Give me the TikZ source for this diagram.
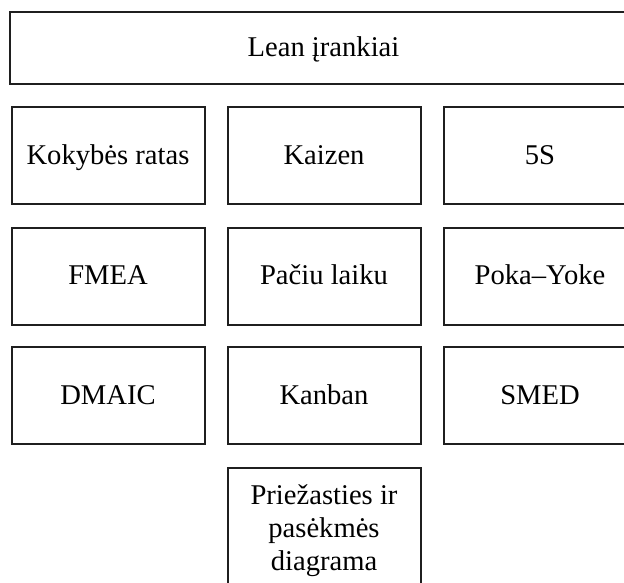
\documentclass[tikz,border=0pt]{standalone}
\usepackage{fontspec}
\setmainfont{Liberation Serif}
\begin{document}
\begin{tikzpicture}[x=1pt,y=-1pt,
  boxbase/.style={draw=black!88, line width=2pt, rectangle, align=center,
    minimum width=193pt, inner sep=0pt,
    font=\fontsize{28.6}{33}\selectfont},
  tool/.style={boxbase, minimum height=97pt, text height=20pt, text depth=2.5pt},
  header/.style={tool, minimum width=627pt, minimum height=72pt}]
  \useasboundingbox (0,0) rectangle (624,582);

  % title bar
  \node[header] (lean) at (323.5,48) {Lean įrankiai};

  % grid of tools, three columns
  \node[tool] (kok)  at (108,155.5) {Kokybės ratas};
  \node[tool] (kai)  at (324,155.5) {Kaizen};
  \node[tool] (fs)   at (540,155.5) {5S};

  \node[tool] (fmea) at (108,276) {FMEA};
  \node[tool] (jit)  at (324,276) {Pačiu laiku};
  \node[tool] (poka) at (540,276) {Poka–Yoke};

  \node[tool] (dmaic) at (108,395.5) {DMAIC};
  \node[tool] (kan)   at (324,395.5) {Kanban};
  \node[tool] (smed)  at (540,395.5) {SMED};

  % last box runs past the bottom edge
  \node[boxbase, anchor=north, inner ysep=17pt] (ishi) at (324,467)
    {Priežasties ir\\pasėkmės\\diagrama};
\end{tikzpicture}
\end{document}
